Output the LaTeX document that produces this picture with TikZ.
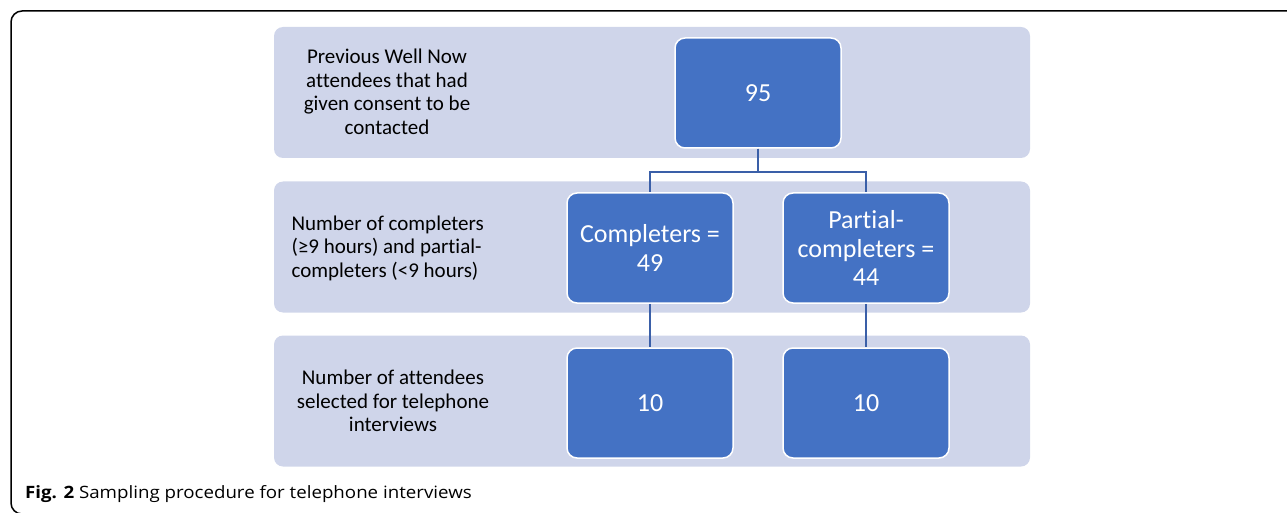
\documentclass[tikz,border=0pt]{standalone}
\usepackage{fontspec}
\setmainfont[Ligatures=NoCommon]{Carlito}
\newfontfamily\captionfont{Open Sans}
\usetikzlibrary{positioning}

\definecolor{bandfill}{HTML}{CFD5EA}
\definecolor{boxblue}{HTML}{4472C4}
\definecolor{linkblue}{HTML}{3A5FA8}

\tikzset{
    band/.style={fill=bandfill, rounded corners=9pt, minimum width=756pt, minimum height=131pt, inner sep=0pt},
    bandtext/.style={align=center, font=\fontsize{21}{23.5}\selectfont, text=black},
    bluebox/.style={fill=boxblue, draw=white, line width=1.5pt, rounded corners=10pt, minimum width=166pt, minimum height=110pt, align=center, text=white, font=\fontsize{26}{28.5}\selectfont},
    link/.style={draw=linkblue, line width=1.6pt}
}

\begin{document}
\begin{tikzpicture}[x=1pt,y=-1pt]
            \useasboundingbox (0,0) rectangle (1287,513);
            \clip (0,0) rectangle (1287,513);
            \draw[line width=1.5pt, rounded corners=11pt] (1300,11) -- (11,11) -- (11,514) -- (1300,514);

            \node[band] (Consent Band) at (652,92.5) {};
            \node[band] (Completers Band) at (652,247) {};
            \node[band] (Interview Band) at (652,401) {};

            \node[bandtext] (Consent Text) at (387,92) {Previous Well Now\\
                attendees that had\\
                given consent to be\\
                contacted};
            \node[bandtext, align=left, anchor=west] (Completers Text) at (288,248) {Number of completers\\
                (≥9 hours) and partial-\\
                completers (<9 hours)};
            \node[bandtext] (Interview Text) at (393,401) {Number of attendees\\
                selected for telephone\\
                interviews};

            \node[bluebox] (Consented) at (758,93) {95};
            \node[bluebox] (Completers) at (650,248) {Completers =\\ 49};
            \node[bluebox] (Partial) at (866,248) {Partial-\\ completers =\\ 44};
            \node[bluebox] (Completers Selected) at (650,403) {10};
            \node[bluebox] (Partial Selected) at (866,403) {10};

            \draw[link] (Consented.south) -- ++(0,23) -| (Completers.north);
            \draw[link] (Consented.south) -- ++(0,23) -| (Partial.north);
            \draw[link] (Completers) -- (Completers Selected);
            \draw[link] (Partial) -- (Partial Selected);

            \node[anchor=base west, inner sep=0pt, font=\captionfont\fontsize{17}{21}\selectfont] (Caption) at (25,498) {\scalebox{1.1}[1]{\textbf{Fig. 2} Sampling procedure for telephone interviews}};
        \end{tikzpicture}
\end{document}
